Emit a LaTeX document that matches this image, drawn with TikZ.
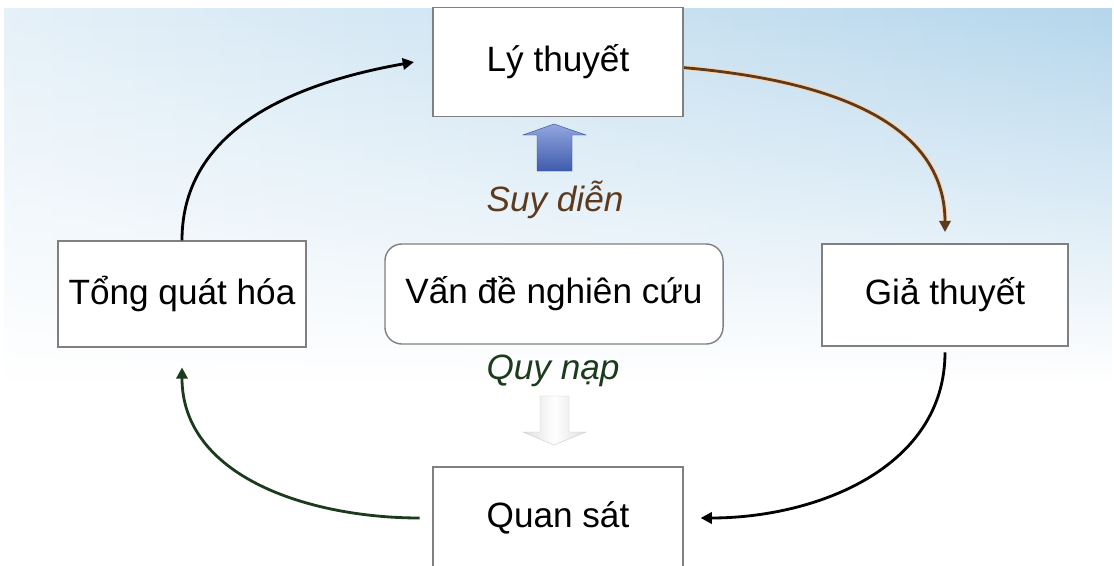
\documentclass[tikz,border=0pt]{standalone}
\usepackage{fontspec}
\setmainfont{Liberation Sans}
\usetikzlibrary{arrows.meta,fadings}

\definecolor{boxgray}{HTML}{808080}
\definecolor{deducbrown}{HTML}{5C3A1E}
\definecolor{inducgreen}{HTML}{1C3A1C}
\definecolor{skyblue}{HTML}{B5D6EC}
\definecolor{deducblue}{HTML}{4A6CCB}

\tikzset{
  stepbox/.style={draw=boxgray, line width=1pt, fill=white, inner sep=0pt},
  cyclearrow/.style={line width=2pt, -{Triangle[length=8pt,width=8pt]}},
  methodlabel/.style={font=\fontsize{25}{30}\selectfont\itshape}
}

\begin{document}
\begin{tikzpicture}[x=0.025cm, y=-0.025cm, every node/.style={font=\fontsize{25}{30}\selectfont}]
	\useasboundingbox (0,0) rectangle (1114,566);
	\clip (0,0) rectangle (1114,566);
	\fill[white] (0,0) rectangle (1114,566);
	% background
	\shade[left color=skyblue!35, middle color=skyblue!10, right color=skyblue, path fading=south]
		(5,8) rectangle (1114,380);

	\node[stepbox, minimum width=6.25cm, minimum height=2.72cm] (ly) at (558,62) {Lý thuyết};
	\node[stepbox, minimum width=6.15cm, minimum height=2.55cm] (gia) at (945,295) {Giả thuyết};
	\node[stepbox, minimum width=6.2cm, minimum height=2.65cm] (tong) at (182,294) {Tổng quát hóa};
	\node[stepbox, rounded corners=12pt, minimum width=8.45cm, minimum height=2.5cm] (van) at (554,294) {Vấn đề nghiên cứu};
	\node[stepbox, minimum width=6.25cm, minimum height=2.55cm] (quan) at (558,518) {Quan sát};

	\node[methodlabel, text=deducbrown] (suy) at (555,200) {Suy diễn};
	\node[methodlabel, text=inducgreen] (quy) at (553,371) {Quy nạp};

	% block arrows
	\shade[top color=deducblue!60!white, bottom color=deducblue!85!black, draw=deducblue!70!black, line width=0.3pt]
		(554,124) -- (586,135) -- (572,135) -- (572,171) -- (537,171) -- (537,135) -- (523,135) -- cycle;
	\shade[left color=gray!25, right color=gray!25, middle color=white, draw=gray!40, line width=0.3pt]
		(540,396) -- (569,396) -- (569,432) -- (586,432) -- (554,445) -- (523,432) -- (540,432) -- cycle;

	\draw[cyclearrow, black] (tong.north) to[out=90, in=190] ([xshift=-13pt]ly.west);
	\draw[cyclearrow, deducbrown, preaction={draw=orange!35, line width=3.5pt}] ([yshift=-4pt]ly.east) to[out=-5, in=90] ([yshift=8pt]gia.north);
	\draw[cyclearrow, black] ([yshift=-4pt]gia.south) to[out=-90, in=0] ([xshift=12pt]quan.east);
	\draw[cyclearrow, inducgreen] ([xshift=-9pt]quan.west) to[out=180, in=-90] ([yshift=-14pt]tong.south);
\end{tikzpicture}
\end{document}
